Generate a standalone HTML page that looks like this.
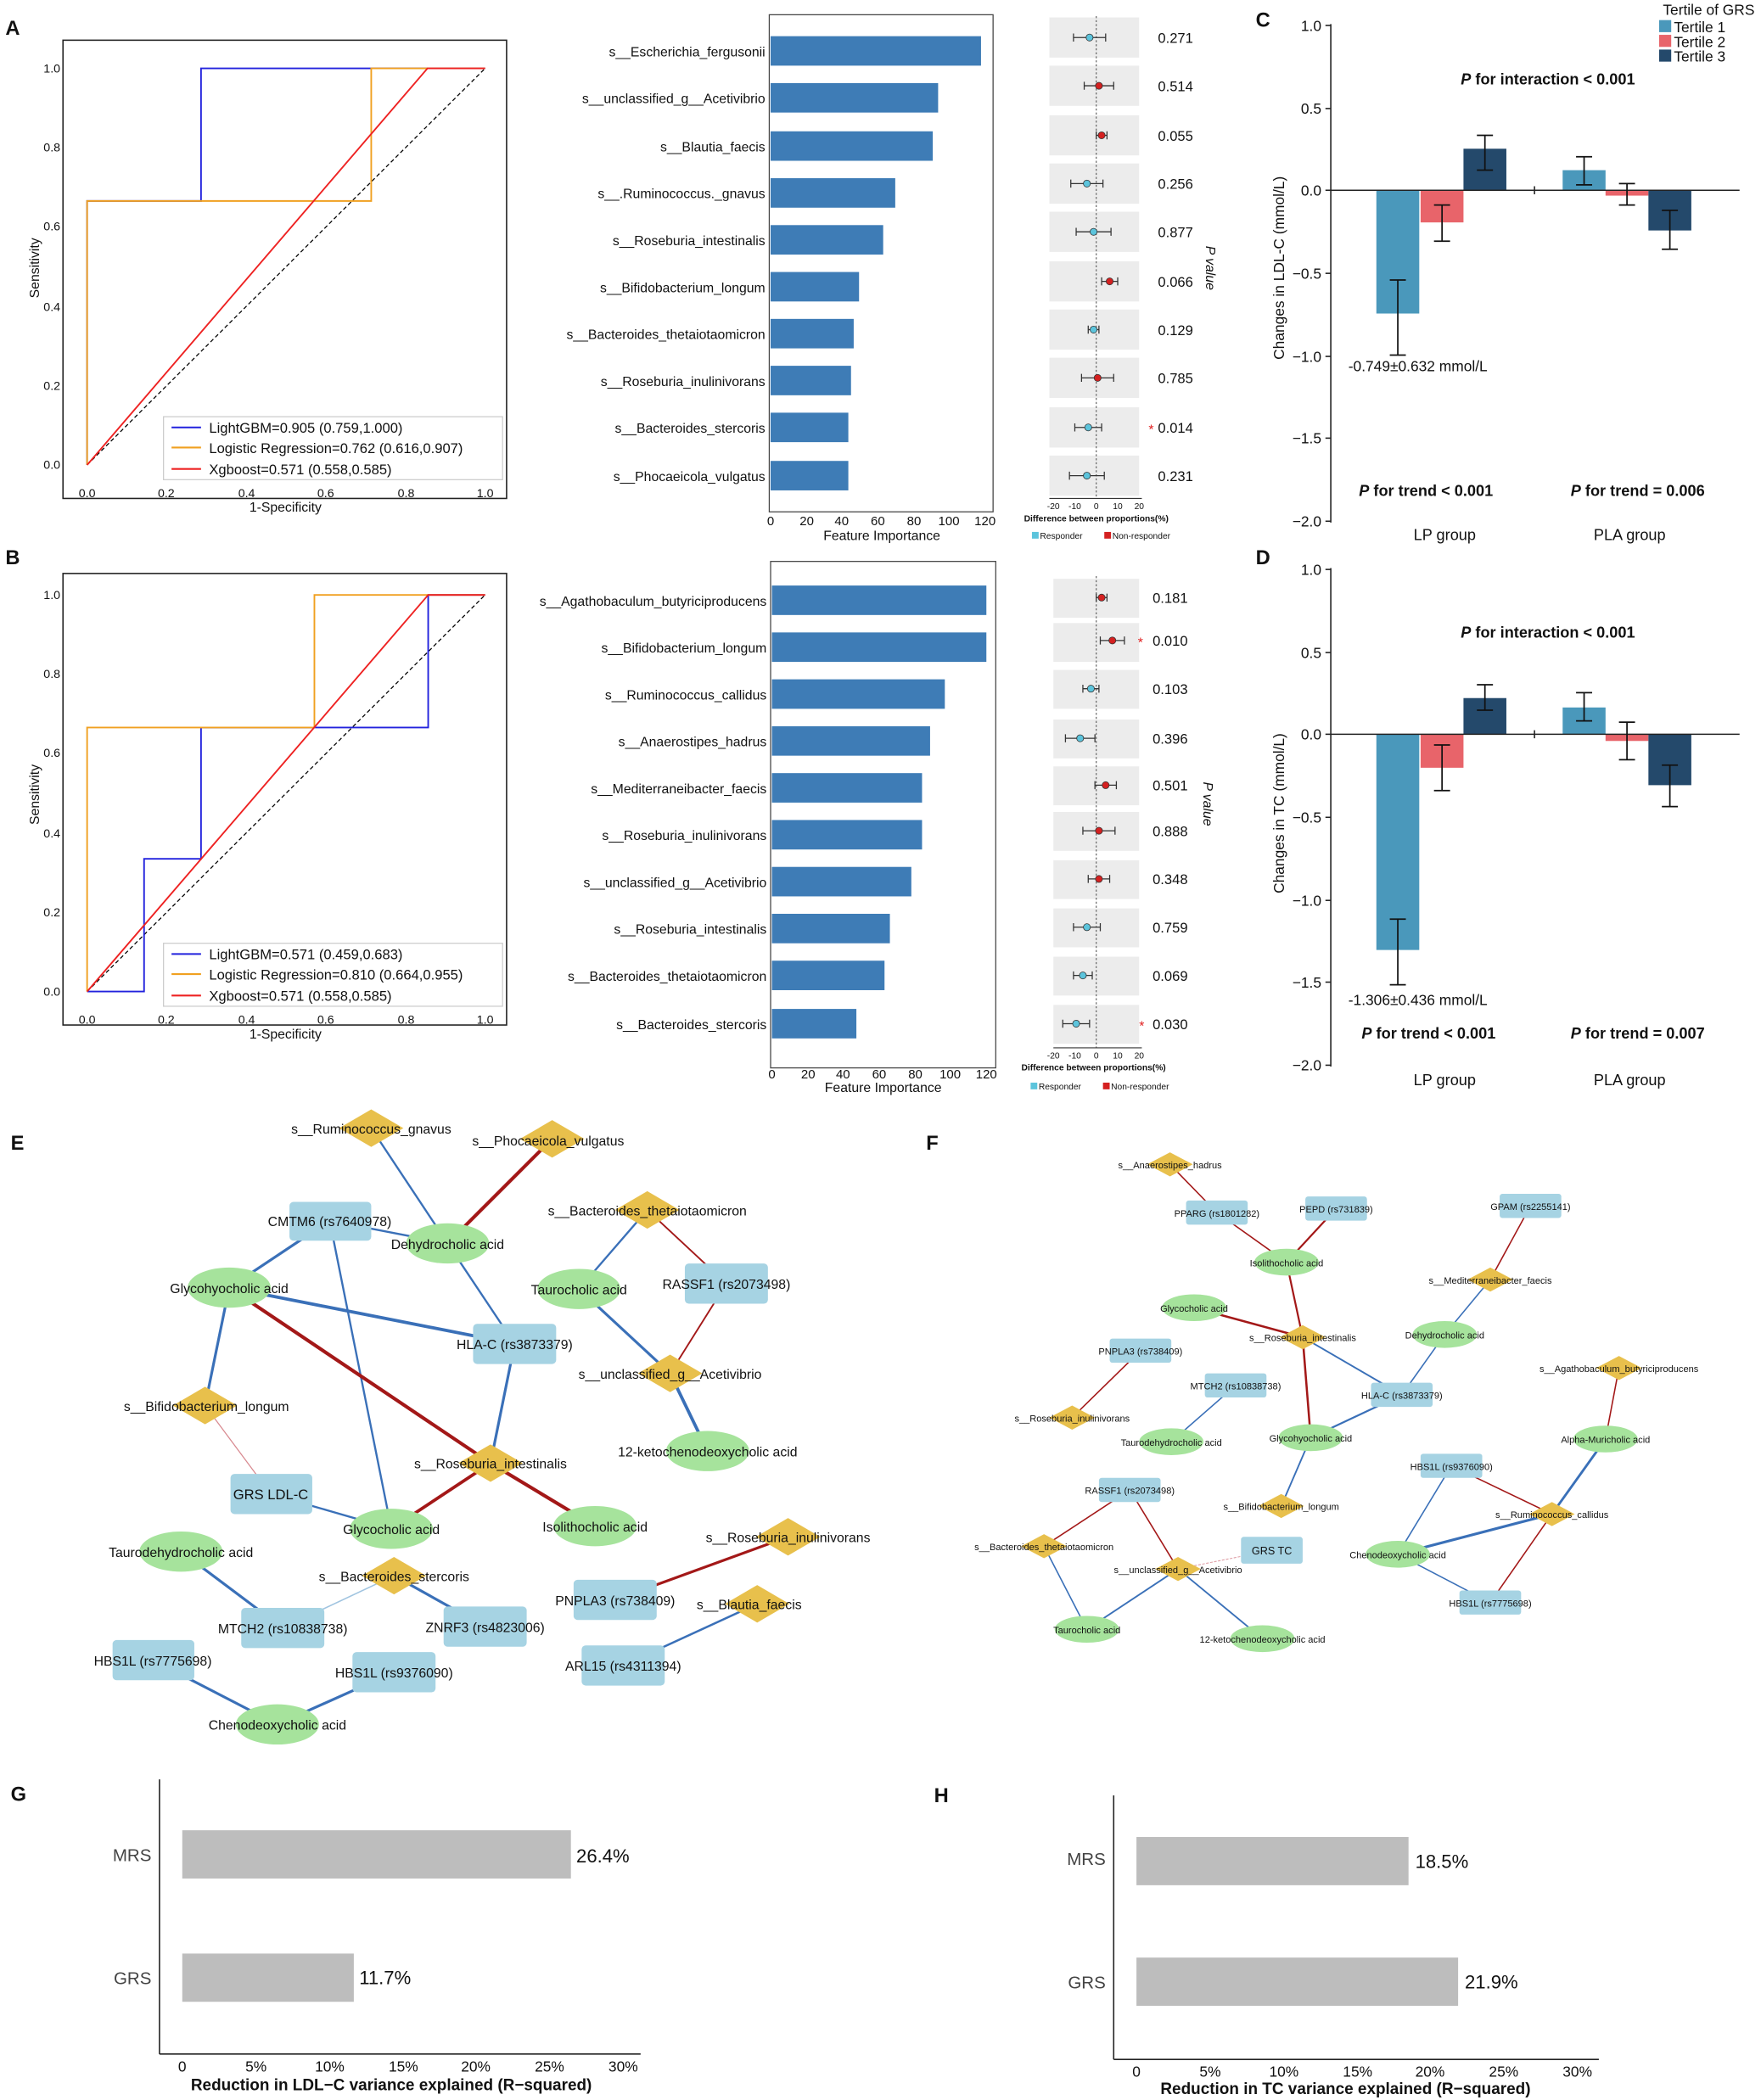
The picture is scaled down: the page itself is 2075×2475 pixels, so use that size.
<!DOCTYPE html>
<html><head><meta charset="utf-8"><style>
html,body{margin:0;padding:0;background:#fff}
svg{display:block}
text{font-family:"Liberation Sans",sans-serif;fill:#111}
</style></head><body>
<svg width="2075" height="2475" viewBox="0 0 1314 1567.3" xmlns="http://www.w3.org/2000/svg">
<rect width="1314" height="1568" fill="#fff"/>

<!-- ===== Panel A ROC ===== -->
<text x="4" y="26" font-size="15" font-weight="bold">A</text>
<rect x="47" y="30" width="331" height="342" fill="none" stroke="#222" stroke-width="1"/>
<g font-size="9" text-anchor="middle">
<text x="65" y="371">0.0</text><text x="124" y="371">0.2</text><text x="184" y="371">0.4</text><text x="243" y="371">0.6</text><text x="303" y="371">0.8</text><text x="362" y="371">1.0</text>
</g>
<g font-size="9" text-anchor="end">
<text x="45" y="350">0.0</text><text x="45" y="291">0.2</text><text x="45" y="232">0.4</text><text x="45" y="172">0.6</text><text x="45" y="113">0.8</text><text x="45" y="54">1.0</text>
</g>
<text x="213" y="382" font-size="10" text-anchor="middle">1-Specificity</text>
<text transform="translate(29,200) rotate(-90)" font-size="10" text-anchor="middle">Sensitivity</text>
<line x1="65" y1="347" x2="362" y2="51" stroke="#000" stroke-dasharray="3,2" stroke-width="0.8"/>
<polyline points="65,347 65,150 150,150 150,51 362,51" fill="none" stroke="#2222dd" stroke-width="1.2"/>
<polyline points="65,347 65,150 277,150 277,51 362,51" fill="none" stroke="#f0a020" stroke-width="1.2"/>
<polyline points="65,347 319,51 362,51" fill="none" stroke="#ee2222" stroke-width="1.2"/>
<rect x="122" y="311" width="253" height="47" fill="#fff" stroke="#ccc" stroke-width="0.8"/>
<line x1="128" y1="319" x2="150" y2="319" stroke="#2222dd" stroke-width="1.3"/>
<line x1="128" y1="334" x2="150" y2="334" stroke="#f0a020" stroke-width="1.3"/>
<line x1="128" y1="350" x2="150" y2="350" stroke="#ee2222" stroke-width="1.3"/>
<g font-size="10.5"><text x="156" y="323">LightGBM=0.905 (0.759,1.000)</text><text x="156" y="338">Logistic Regression=0.762 (0.616,0.907)</text><text x="156" y="354">Xgboost=0.571 (0.558,0.585)</text></g>

<!-- ===== Panel A bars ===== -->
<rect x="574" y="11" width="167" height="371" fill="none" stroke="#444" stroke-width="0.8"/>
<g fill="#3e7cb6">
<rect x="575" y="27" width="157" height="22"/><rect x="575" y="62" width="125" height="22"/><rect x="575" y="98" width="121" height="22"/><rect x="575" y="133" width="93" height="22"/><rect x="575" y="168" width="84" height="22"/><rect x="575" y="203" width="66" height="22"/><rect x="575" y="238" width="62" height="22"/><rect x="575" y="273" width="60" height="22"/><rect x="575" y="308" width="58" height="22"/><rect x="575" y="344" width="58" height="22"/>
</g>
<g font-size="10" text-anchor="end">
<text x="571" y="42">s__Escherichia_fergusonii</text><text x="571" y="77">s__unclassified_g__Acetivibrio</text><text x="571" y="113">s__Blautia_faecis</text><text x="571" y="148">s__.Ruminococcus._gnavus</text><text x="571" y="183">s__Roseburia_intestinalis</text><text x="571" y="218">s__Bifidobacterium_longum</text><text x="571" y="253">s__Bacteroides_thetaiotaomicron</text><text x="571" y="288">s__Roseburia_inulinivorans</text><text x="571" y="323">s__Bacteroides_stercoris</text><text x="571" y="359">s__Phocaeicola_vulgatus</text>
</g>
<g font-size="9.5" text-anchor="middle">
<text x="575" y="392">0</text><text x="602" y="392">20</text><text x="628" y="392">40</text><text x="655" y="392">60</text><text x="682" y="392">80</text><text x="708" y="392">100</text><text x="735" y="392">120</text>
</g>
<text x="658" y="403" font-size="10" text-anchor="middle">Feature Importance</text>

<!-- ===== Panel A forest ===== -->
<g fill="#ececec">
<rect x="783" y="13" width="67" height="30"/><rect x="783" y="49" width="67" height="30"/><rect x="783" y="86" width="67" height="30"/><rect x="783" y="122" width="67" height="30"/><rect x="783" y="158" width="67" height="30"/><rect x="783" y="195" width="67" height="30"/><rect x="783" y="231" width="67" height="30"/><rect x="783" y="267" width="67" height="30"/><rect x="783" y="304" width="67" height="30"/><rect x="783" y="340" width="67" height="30"/>
</g>
<line x1="818" y1="12" x2="818" y2="372" stroke="#555" stroke-dasharray="1.5,1.5" stroke-width="0.7"/>
<line x1="783" y1="372" x2="852" y2="372" stroke="#333" stroke-width="0.7"/>
<g stroke="#333" stroke-width="0.8" fill="none">
<path d="M801 28H825M801 25V31M825 25V31"/><path d="M809 64H831M809 61V67M831 61V67"/><path d="M818 101H826M818 98V104M826 98V104"/><path d="M799 137H823M799 134V140M823 134V140"/><path d="M803 173H829M803 170V176M829 170V176"/><path d="M822 210H834M822 207V213M834 207V213"/><path d="M812 246H820M812 243V249M820 243V249"/><path d="M807 282H831M807 279V285M831 279V285"/><path d="M802 319H822M802 316V322M822 316V322"/><path d="M798 355H824M798 352V358M824 352V358"/>
</g>
<g stroke="#333" stroke-width="0.5">
<circle cx="813" cy="28" r="2.6" fill="#5cc4dc"/><circle cx="820" cy="64" r="2.6" fill="#d42020"/><circle cx="822" cy="101" r="2.6" fill="#d42020"/><circle cx="811" cy="137" r="2.6" fill="#5cc4dc"/><circle cx="816" cy="173" r="2.6" fill="#5cc4dc"/><circle cx="828" cy="210" r="2.6" fill="#d42020"/><circle cx="816" cy="246" r="2.6" fill="#5cc4dc"/><circle cx="819" cy="282" r="2.6" fill="#d42020"/><circle cx="812" cy="319" r="2.6" fill="#5cc4dc"/><circle cx="811" cy="355" r="2.6" fill="#5cc4dc"/>
</g>
<g font-size="10.5">
<text x="864" y="32">0.271</text><text x="864" y="68">0.514</text><text x="864" y="105">0.055</text><text x="864" y="141">0.256</text><text x="864" y="177">0.877</text><text x="864" y="214">0.066</text><text x="864" y="250">0.129</text><text x="864" y="286">0.785</text><text x="864" y="323">0.014</text><text x="864" y="359">0.231</text>
</g>
<text x="857" y="324" font-size="10" fill="#e02020" style="fill:#e02020">*</text>
<text transform="translate(900,200) rotate(90)" font-size="10" font-style="italic" text-anchor="middle">P value</text>
<g font-size="6.5" text-anchor="middle">
<text x="786" y="380">-20</text><text x="802" y="380">-10</text><text x="818" y="380">0</text><text x="834" y="380">10</text><text x="850" y="380">20</text>
</g>
<text x="818" y="389" font-size="6.5" font-weight="bold" text-anchor="middle">Difference between proportions(%)</text>
<rect x="770" y="397" width="5" height="5" fill="#5cc4dc"/><text x="776" y="402" font-size="6.5">Responder</text>
<rect x="824" y="397" width="5" height="5" fill="#d42020"/><text x="830" y="402" font-size="6.5">Non-responder</text>

<!-- ===== Panel B ROC ===== -->
<text x="4" y="421" font-size="15" font-weight="bold">B</text>
<rect x="47" y="428" width="331" height="337" fill="none" stroke="#222" stroke-width="1"/>
<g font-size="9" text-anchor="middle">
<text x="65" y="764">0.0</text><text x="124" y="764">0.2</text><text x="184" y="764">0.4</text><text x="243" y="764">0.6</text><text x="303" y="764">0.8</text><text x="362" y="764">1.0</text>
</g>
<g font-size="9" text-anchor="end">
<text x="45" y="743">0.0</text><text x="45" y="684">0.2</text><text x="45" y="625">0.4</text><text x="45" y="565">0.6</text><text x="45" y="506">0.8</text><text x="45" y="447">1.0</text>
</g>
<text x="213" y="775" font-size="10" text-anchor="middle">1-Specificity</text>
<text transform="translate(29,593) rotate(-90)" font-size="10" text-anchor="middle">Sensitivity</text>
<line x1="65" y1="740" x2="362" y2="444" stroke="#000" stroke-dasharray="3,2" stroke-width="0.8"/>
<polyline points="65,740 107.5,740 107.5,641 150,641 150,543 319.5,543 319.5,444 362,444" fill="none" stroke="#2222dd" stroke-width="1.2"/>
<polyline points="65,740 65,543 234.6,543 234.6,444 362,444" fill="none" stroke="#f0a020" stroke-width="1.2"/>
<polyline points="65,740 319.5,444 362,444" fill="none" stroke="#ee2222" stroke-width="1.2"/>
<rect x="122" y="704" width="253" height="47" fill="#fff" stroke="#ccc" stroke-width="0.8"/>
<line x1="128" y1="712" x2="150" y2="712" stroke="#2222dd" stroke-width="1.3"/>
<line x1="128" y1="727" x2="150" y2="727" stroke="#f0a020" stroke-width="1.3"/>
<line x1="128" y1="743" x2="150" y2="743" stroke="#ee2222" stroke-width="1.3"/>
<g font-size="10.5"><text x="156" y="716">LightGBM=0.571 (0.459,0.683)</text><text x="156" y="731">Logistic Regression=0.810 (0.664,0.955)</text><text x="156" y="747">Xgboost=0.571 (0.558,0.585)</text></g>

<!-- ===== Panel B bars ===== -->
<rect x="575" y="419" width="168" height="378" fill="none" stroke="#444" stroke-width="0.8"/>
<g fill="#3e7cb6">
<rect x="576" y="437" width="160" height="22"/><rect x="576" y="472" width="160" height="22"/><rect x="576" y="507" width="129" height="22"/><rect x="576" y="542" width="118" height="22"/><rect x="576" y="577" width="112" height="22"/><rect x="576" y="612" width="112" height="22"/><rect x="576" y="647" width="104" height="22"/><rect x="576" y="682" width="88" height="22"/><rect x="576" y="717" width="84" height="22"/><rect x="576" y="753" width="63" height="22"/>
</g>
<g font-size="10" text-anchor="end">
<text x="572" y="452">s__Agathobaculum_butyriciproducens</text><text x="572" y="487">s__Bifidobacterium_longum</text><text x="572" y="522">s__Ruminococcus_callidus</text><text x="572" y="557">s__Anaerostipes_hadrus</text><text x="572" y="592">s__Mediterraneibacter_faecis</text><text x="572" y="627">s__Roseburia_inulinivorans</text><text x="572" y="662">s__unclassified_g__Acetivibrio</text><text x="572" y="697">s__Roseburia_intestinalis</text><text x="572" y="732">s__Bacteroides_thetaiotaomicron</text><text x="572" y="768">s__Bacteroides_stercoris</text>
</g>
<g font-size="9.5" text-anchor="middle">
<text x="576" y="805">0</text><text x="603" y="805">20</text><text x="629" y="805">40</text><text x="656" y="805">60</text><text x="683" y="805">80</text><text x="709" y="805">100</text><text x="736" y="805">120</text>
</g>
<text x="659" y="815" font-size="10" text-anchor="middle">Feature Importance</text>

<!-- ===== Panel B forest ===== -->
<g fill="#ececec">
<rect x="786" y="432" width="64" height="29"/><rect x="786" y="465" width="64" height="29"/><rect x="786" y="500" width="64" height="29"/><rect x="786" y="537" width="64" height="29"/><rect x="786" y="572" width="64" height="29"/><rect x="786" y="606" width="64" height="29"/><rect x="786" y="642" width="64" height="29"/><rect x="786" y="678" width="64" height="29"/><rect x="786" y="714" width="64" height="29"/><rect x="786" y="750" width="64" height="29"/>
</g>
<line x1="818" y1="430" x2="818" y2="782" stroke="#555" stroke-dasharray="1.5,1.5" stroke-width="0.7"/>
<line x1="786" y1="782" x2="852" y2="782" stroke="#333" stroke-width="0.7"/>
<g stroke="#333" stroke-width="0.8" fill="none">
<path d="M818 446H826M818 443V449M826 443V449"/><path d="M821 478H839M821 475V481M839 475V481"/><path d="M808 514H820M808 511V517M820 511V517"/><path d="M795 551H817M795 548V554M817 548V554"/><path d="M817 586H833M817 583V589M833 583V589"/><path d="M808 620H832M808 617V623M832 617V623"/><path d="M812 656H828M812 653V659M828 653V659"/><path d="M801 692H821M801 689V695M821 689V695"/><path d="M801 728H815M801 725V731M815 725V731"/><path d="M793 764H813M793 761V767M813 761V767"/>
</g>
<g stroke="#333" stroke-width="0.5">
<circle cx="822" cy="446" r="2.6" fill="#d42020"/><circle cx="830" cy="478" r="2.6" fill="#d42020"/><circle cx="814" cy="514" r="2.6" fill="#5cc4dc"/><circle cx="806" cy="551" r="2.6" fill="#5cc4dc"/><circle cx="825" cy="586" r="2.6" fill="#d42020"/><circle cx="820" cy="620" r="2.6" fill="#d42020"/><circle cx="820" cy="656" r="2.6" fill="#d42020"/><circle cx="811" cy="692" r="2.6" fill="#5cc4dc"/><circle cx="808" cy="728" r="2.6" fill="#5cc4dc"/><circle cx="803" cy="764" r="2.6" fill="#5cc4dc"/>
</g>
<g font-size="10.5">
<text x="860" y="450">0.181</text><text x="860" y="482">0.010</text><text x="860" y="518">0.103</text><text x="860" y="555">0.396</text><text x="860" y="590">0.501</text><text x="860" y="624">0.888</text><text x="860" y="660">0.348</text><text x="860" y="696">0.759</text><text x="860" y="732">0.069</text><text x="860" y="768">0.030</text>
</g>
<text x="849" y="483" font-size="10" style="fill:#e02020">*</text>
<text x="850" y="769" font-size="10" style="fill:#e02020">*</text>
<text transform="translate(898,600) rotate(90)" font-size="10" font-style="italic" text-anchor="middle">P value</text>
<g font-size="6.5" text-anchor="middle">
<text x="786" y="790">-20</text><text x="802" y="790">-10</text><text x="818" y="790">0</text><text x="834" y="790">10</text><text x="850" y="790">20</text>
</g>
<text x="816" y="799" font-size="6.5" font-weight="bold" text-anchor="middle">Difference between proportions(%)</text>
<rect x="769" y="808" width="5" height="5" fill="#5cc4dc"/><text x="775" y="813" font-size="6.5">Responder</text>
<rect x="823" y="808" width="5" height="5" fill="#d42020"/><text x="829" y="813" font-size="6.5">Non-responder</text>

<!-- ===== Panel C ===== -->
<text x="937" y="20" font-size="15" font-weight="bold">C</text>
<line x1="993" y1="18" x2="993" y2="390" stroke="#222" stroke-width="1"/>
<g stroke="#222"><line x1="989" y1="19" x2="993" y2="19"/><line x1="989" y1="81" x2="993" y2="81"/><line x1="989" y1="142" x2="993" y2="142"/><line x1="989" y1="204" x2="993" y2="204"/><line x1="989" y1="266" x2="993" y2="266"/><line x1="989" y1="327" x2="993" y2="327"/><line x1="989" y1="389" x2="993" y2="389"/></g>
<g font-size="11" text-anchor="end">
<text x="986" y="23">1.0</text><text x="986" y="85">0.5</text><text x="986" y="146">0.0</text><text x="986" y="208">−0.5</text><text x="986" y="270">−1.0</text><text x="986" y="331">−1.5</text><text x="986" y="393">−2.0</text>
</g>
<text transform="translate(958,200) rotate(-90)" font-size="11" text-anchor="middle">Changes in LDL-C (mmol/L)</text>
<rect x="1027" y="142" width="32" height="92" fill="#4a98bb"/>
<rect x="1060" y="142" width="32" height="24" fill="#e8646a"/>
<rect x="1092" y="111" width="32" height="31" fill="#24496b"/>
<rect x="1166" y="127" width="32" height="15" fill="#4a98bb"/>
<rect x="1198" y="142" width="32" height="4" fill="#e8646a"/>
<rect x="1230" y="142" width="32" height="30" fill="#24496b"/>
<line x1="993" y1="142" x2="1298" y2="142" stroke="#222" stroke-width="1"/>
<line x1="1145" y1="139" x2="1145" y2="145" stroke="#222"/>
<g stroke="#111" stroke-width="1.1" fill="none">
<path d="M1043 209V265M1037 209H1049M1037 265H1049"/><path d="M1076 153V180M1070 153H1082M1070 180H1082"/><path d="M1108 101V127M1102 101H1114M1102 127H1114"/>
<path d="M1182 117V138M1176 117H1188M1176 138H1188"/><path d="M1214 137V153M1208 137H1220M1208 153H1220"/><path d="M1246 157V186M1240 157H1252M1240 186H1252"/>
</g>
<text x="1155" y="63" font-size="11.5" font-weight="bold" text-anchor="middle"><tspan font-style="italic">P</tspan> for interaction &lt; 0.001</text>
<text x="1058" y="277" font-size="11" text-anchor="middle">-0.749±0.632 mmol/L</text>
<text x="1064" y="370" font-size="11.5" font-weight="bold" text-anchor="middle"><tspan font-style="italic">P</tspan> for trend &lt; 0.001</text>
<text x="1222" y="370" font-size="11.5" font-weight="bold" text-anchor="middle"><tspan font-style="italic">P</tspan> for trend = 0.006</text>
<text x="1078" y="403" font-size="11.5" text-anchor="middle">LP group</text>
<text x="1216" y="403" font-size="11.5" text-anchor="middle">PLA group</text>
<text x="1275" y="11" font-size="11" text-anchor="middle">Tertile of GRS</text>
<rect x="1238" y="15" width="9" height="9" fill="#4a98bb"/><text x="1249" y="24" font-size="11">Tertile 1</text>
<rect x="1238" y="26" width="9" height="9" fill="#e8646a"/><text x="1249" y="35" font-size="11">Tertile 2</text>
<rect x="1238" y="37" width="9" height="9" fill="#24496b"/><text x="1249" y="46" font-size="11">Tertile 3</text>

<!-- ===== Panel D ===== -->
<text x="937" y="421" font-size="15" font-weight="bold">D</text>
<line x1="993" y1="424" x2="993" y2="796" stroke="#222" stroke-width="1"/>
<g stroke="#222"><line x1="989" y1="425" x2="993" y2="425"/><line x1="989" y1="487" x2="993" y2="487"/><line x1="989" y1="548" x2="993" y2="548"/><line x1="989" y1="610" x2="993" y2="610"/><line x1="989" y1="672" x2="993" y2="672"/><line x1="989" y1="733" x2="993" y2="733"/><line x1="989" y1="795" x2="993" y2="795"/></g>
<g font-size="11" text-anchor="end">
<text x="986" y="429">1.0</text><text x="986" y="491">0.5</text><text x="986" y="552">0.0</text><text x="986" y="614">−0.5</text><text x="986" y="676">−1.0</text><text x="986" y="737">−1.5</text><text x="986" y="799">−2.0</text>
</g>
<text transform="translate(958,607) rotate(-90)" font-size="11" text-anchor="middle">Changes in TC (mmol/L)</text>
<rect x="1027" y="548" width="32" height="161" fill="#4a98bb"/>
<rect x="1060" y="548" width="32" height="25" fill="#e8646a"/>
<rect x="1092" y="521" width="32" height="27" fill="#24496b"/>
<rect x="1166" y="528" width="32" height="20" fill="#4a98bb"/>
<rect x="1198" y="548" width="32" height="5" fill="#e8646a"/>
<rect x="1230" y="548" width="32" height="38" fill="#24496b"/>
<line x1="993" y1="548" x2="1298" y2="548" stroke="#222" stroke-width="1"/>
<line x1="1145" y1="545" x2="1145" y2="551" stroke="#222"/>
<g stroke="#111" stroke-width="1.1" fill="none">
<path d="M1043 686V735M1037 686H1049M1037 735H1049"/><path d="M1076 556V590M1070 556H1082M1070 590H1082"/><path d="M1108 511V530M1102 511H1114M1102 530H1114"/>
<path d="M1182 517V538M1176 517H1188M1176 538H1188"/><path d="M1214 539V567M1208 539H1220M1208 567H1220"/><path d="M1246 571V602M1240 571H1252M1240 602H1252"/>
</g>
<text x="1155" y="476" font-size="11.5" font-weight="bold" text-anchor="middle"><tspan font-style="italic">P</tspan> for interaction &lt; 0.001</text>
<text x="1058" y="750" font-size="11" text-anchor="middle">-1.306±0.436 mmol/L</text>
<text x="1066" y="775" font-size="11.5" font-weight="bold" text-anchor="middle"><tspan font-style="italic">P</tspan> for trend &lt; 0.001</text>
<text x="1222" y="775" font-size="11.5" font-weight="bold" text-anchor="middle"><tspan font-style="italic">P</tspan> for trend = 0.007</text>
<text x="1078" y="810" font-size="11.5" text-anchor="middle">LP group</text>
<text x="1216" y="810" font-size="11.5" text-anchor="middle">PLA group</text>

<!-- ===== Panel E network ===== -->
<text x="8" y="858" font-size="15" font-weight="bold">E</text>
<g fill="none" stroke-width="1.5">
<line x1="277" y1="842" x2="334" y2="928" stroke="#3a70b8"/>
<line x1="412" y1="850" x2="334" y2="928" stroke="#a31818" stroke-width="2.6"/>
<line x1="246" y1="911" x2="334" y2="928" stroke="#3a70b8"/>
<line x1="246" y1="911" x2="171" y2="961" stroke="#3a70b8" stroke-width="2"/>
<line x1="246" y1="911" x2="292" y2="1141" stroke="#3a70b8"/>
<line x1="334" y1="928" x2="384" y2="1003" stroke="#3a70b8"/>
<line x1="171" y1="961" x2="384" y2="1003" stroke="#3a70b8" stroke-width="2.4"/>
<line x1="171" y1="961" x2="366" y2="1092" stroke="#a31818" stroke-width="2.6"/>
<line x1="366" y1="1092" x2="444" y2="1139" stroke="#a31818" stroke-width="2.6"/>
<line x1="171" y1="961" x2="153" y2="1049" stroke="#3a70b8" stroke-width="2"/>
<line x1="153" y1="1049" x2="202" y2="1115" stroke="#d88a90" stroke-width="0.8"/>
<line x1="202" y1="1115" x2="292" y2="1141" stroke="#3a70b8"/>
<line x1="384" y1="1003" x2="366" y2="1092" stroke="#3a70b8" stroke-width="2"/>
<line x1="366" y1="1092" x2="292" y2="1141" stroke="#a31818" stroke-width="2.4"/>
<line x1="483" y1="903" x2="432" y2="962" stroke="#3a70b8"/>
<line x1="483" y1="903" x2="542" y2="958" stroke="#a31818" stroke-width="1.2"/>
<line x1="542" y1="958" x2="500" y2="1025" stroke="#a31818" stroke-width="1.2"/>
<line x1="432" y1="962" x2="500" y2="1025" stroke="#3a70b8" stroke-width="2"/>
<line x1="500" y1="1025" x2="528" y2="1083" stroke="#3a70b8" stroke-width="2.4"/>
<line x1="294" y1="1176" x2="211" y2="1215" stroke="#a0c4e0" stroke-width="1"/>
<line x1="294" y1="1176" x2="362" y2="1214" stroke="#3a70b8" stroke-width="2"/>
<line x1="135" y1="1158" x2="211" y2="1215" stroke="#3a70b8" stroke-width="2"/>
<line x1="114" y1="1239" x2="207" y2="1287" stroke="#3a70b8" stroke-width="2"/>
<line x1="294" y1="1248" x2="207" y2="1287" stroke="#3a70b8" stroke-width="2"/>
<line x1="588" y1="1147" x2="459" y2="1194" stroke="#a31818" stroke-width="2"/>
<line x1="565" y1="1197" x2="465" y2="1243" stroke="#3a70b8" stroke-width="1.6"/>
</g>
<g fill="#a6d3e3">
<rect x="216" y="897" width="61" height="29" rx="3"/><rect x="353" y="988" width="62" height="30" rx="3"/><rect x="511" y="943" width="62" height="30" rx="3"/><rect x="172" y="1100" width="61" height="30" rx="3"/><rect x="180" y="1200" width="62" height="30" rx="3"/><rect x="331" y="1199" width="62" height="30" rx="3"/><rect x="84" y="1224" width="61" height="30" rx="3"/><rect x="263" y="1233" width="62" height="30" rx="3"/><rect x="428" y="1179" width="62" height="30" rx="3"/><rect x="434" y="1228" width="62" height="30" rx="3"/>
</g>
<g fill="#a6e39c">
<ellipse cx="334" cy="928" rx="31" ry="15"/><ellipse cx="171" cy="961" rx="31" ry="15"/><ellipse cx="432" cy="962" rx="31" ry="15"/><ellipse cx="528" cy="1083" rx="31" ry="15"/><ellipse cx="292" cy="1141" rx="31" ry="15"/><ellipse cx="444" cy="1139" rx="31" ry="15"/><ellipse cx="135" cy="1158" rx="31" ry="15"/><ellipse cx="207" cy="1287" rx="31" ry="15"/>
</g>
<g fill="#e8c04c">
<path d="M277 828L301 842L277 856L253 842Z"/><path d="M412 836L436 850L412 864L388 850Z"/><path d="M483 889L507 903L483 917L459 903Z"/><path d="M500 1011L524 1025L500 1039L476 1025Z"/><path d="M153 1035L177 1049L153 1063L129 1049Z"/><path d="M366 1078L390 1092L366 1106L342 1092Z"/><path d="M294 1162L318 1176L294 1190L270 1176Z"/><path d="M588 1133L612 1147L588 1161L564 1147Z"/><path d="M565 1183L589 1197L565 1211L541 1197Z"/>
</g>
<g font-size="10" text-anchor="middle">
<text x="277" y="846">s__Ruminococcus_gnavus</text><text x="409" y="855">s__Phocaeicola_vulgatus</text><text x="483" y="907">s__Bacteroides_thetaiotaomicron</text><text x="500" y="1029">s__unclassified_g__Acetivibrio</text><text x="154" y="1053">s__Bifidobacterium_longum</text><text x="366" y="1096">s__Roseburia_intestinalis</text><text x="294" y="1180">s__Bacteroides_stercoris</text><text x="588" y="1151">s__Roseburia_inulinivorans</text><text x="559" y="1201">s__Blautia_faecis</text>
<text x="246" y="915">CMTM6 (rs7640978)</text><text x="384" y="1007">HLA-C (rs3873379)</text><text x="542" y="962">RASSF1 (rs2073498)</text><text x="202" y="1119" font-size="10.5">GRS LDL-C</text><text x="211" y="1219">MTCH2 (rs10838738)</text><text x="362" y="1218">ZNRF3 (rs4823006)</text><text x="114" y="1243">HBS1L (rs7775698)</text><text x="294" y="1252">HBS1L (rs9376090)</text><text x="459" y="1198">PNPLA3 (rs738409)</text><text x="465" y="1247">ARL15 (rs4311394)</text>
<text x="334" y="932">Dehydrocholic acid</text><text x="171" y="965">Glycohyocholic acid</text><text x="432" y="966">Taurocholic acid</text><text x="528" y="1087">12-ketochenodeoxycholic acid</text><text x="292" y="1145">Glycocholic acid</text><text x="444" y="1143">Isolithocholic acid</text><text x="135" y="1162">Taurodehydrocholic acid</text><text x="207" y="1291">Chenodeoxycholic acid</text>
</g>

<!-- ===== Panel F network ===== -->
<text x="691" y="858" font-size="15" font-weight="bold">F</text>
<g fill="none" stroke-width="1">
<line x1="873" y1="869" x2="908" y2="905" stroke="#a31818"/>
<line x1="908" y1="905" x2="960" y2="942" stroke="#a31818"/>
<line x1="997" y1="902" x2="960" y2="942" stroke="#a31818" stroke-width="1.4"/>
<line x1="960" y1="942" x2="972" y2="998" stroke="#a31818" stroke-width="1.4"/>
<line x1="891" y1="976" x2="972" y2="998" stroke="#a31818" stroke-width="1.6"/>
<line x1="972" y1="998" x2="1046" y2="1041" stroke="#3a70b8" stroke-width="1.2"/>
<line x1="972" y1="998" x2="978" y2="1073" stroke="#a31818" stroke-width="1.6"/>
<line x1="1142" y1="900" x2="1112" y2="955" stroke="#a31818"/>
<line x1="1112" y1="955" x2="1078" y2="996" stroke="#3a70b8"/>
<line x1="1078" y1="996" x2="1046" y2="1041" stroke="#3a70b8"/>
<line x1="1046" y1="1041" x2="978" y2="1073" stroke="#3a70b8" stroke-width="1.4"/>
<line x1="851" y1="1008" x2="800" y2="1058" stroke="#a31818"/>
<line x1="922" y1="1034" x2="874" y2="1076" stroke="#3a70b8"/>
<line x1="978" y1="1073" x2="956" y2="1124" stroke="#3a70b8" stroke-width="1.2"/>
<line x1="1208" y1="1021" x2="1198" y2="1074" stroke="#a31818"/>
<line x1="1198" y1="1074" x2="1158" y2="1130" stroke="#3a70b8" stroke-width="1.8"/>
<line x1="1083" y1="1094" x2="1158" y2="1130" stroke="#a31818"/>
<line x1="1083" y1="1094" x2="1043" y2="1160" stroke="#3a70b8"/>
<line x1="1043" y1="1160" x2="1158" y2="1130" stroke="#3a70b8" stroke-width="2"/>
<line x1="1043" y1="1160" x2="1112" y2="1196" stroke="#3a70b8"/>
<line x1="1158" y1="1130" x2="1112" y2="1196" stroke="#a31818"/>
<line x1="843" y1="1112" x2="779" y2="1154" stroke="#a31818"/>
<line x1="843" y1="1112" x2="879" y2="1171" stroke="#a31818"/>
<line x1="779" y1="1154" x2="811" y2="1216" stroke="#3a70b8"/>
<line x1="879" y1="1171" x2="811" y2="1216" stroke="#3a70b8" stroke-width="1.2"/>
<line x1="879" y1="1171" x2="942" y2="1223" stroke="#3a70b8" stroke-width="1.2"/>
<line x1="949" y1="1157" x2="879" y2="1171" stroke="#e0a0a8" stroke-width="0.7" stroke-dasharray="2,1"/>
</g>
<g fill="#a6d3e3">
<rect x="885" y="896" width="46" height="18" rx="2"/><rect x="974" y="893" width="46" height="18" rx="2"/><rect x="1119" y="891" width="46" height="18" rx="2"/><rect x="828" y="999" width="46" height="18" rx="2"/><rect x="899" y="1025" width="46" height="18" rx="2"/><rect x="1023" y="1032" width="46" height="18" rx="2"/><rect x="1060" y="1085" width="46" height="18" rx="2"/><rect x="820" y="1103" width="46" height="18" rx="2"/><rect x="1089" y="1187" width="46" height="18" rx="2"/><rect x="926" y="1147" width="46" height="20" rx="2"/>
</g>
<g fill="#a6e39c">
<ellipse cx="960" cy="942" rx="24" ry="10"/><ellipse cx="891" cy="976" rx="24" ry="10"/><ellipse cx="1078" cy="996" rx="24" ry="10"/><ellipse cx="874" cy="1076" rx="24" ry="10"/><ellipse cx="978" cy="1073" rx="24" ry="10"/><ellipse cx="1198" cy="1074" rx="24" ry="10"/><ellipse cx="1043" cy="1160" rx="24" ry="10"/><ellipse cx="811" cy="1216" rx="24" ry="10"/><ellipse cx="942" cy="1223" rx="24" ry="10"/>
</g>
<g fill="#e8c04c">
<path d="M873 860L890 869L873 878L856 869Z"/><path d="M1112 946L1129 955L1112 964L1095 955Z"/><path d="M972 989L989 998L972 1007L955 998Z"/><path d="M1208 1012L1225 1021L1208 1030L1191 1021Z"/><path d="M800 1049L817 1058L800 1067L783 1058Z"/><path d="M956 1115L973 1124L956 1133L939 1124Z"/><path d="M1158 1121L1175 1130L1158 1139L1141 1130Z"/><path d="M779 1145L796 1154L779 1163L762 1154Z"/><path d="M879 1162L896 1171L879 1180L862 1171Z"/>
</g>
<g font-size="7" text-anchor="middle">
<text x="873" y="872">s__Anaerostipes_hadrus</text><text x="1112" y="958">s__Mediterraneibacter_faecis</text><text x="972" y="1001">s__Roseburia_intestinalis</text><text x="1208" y="1024">s__Agathobaculum_butyriciproducens</text><text x="800" y="1061">s__Roseburia_inulinivorans</text><text x="956" y="1127">s__Bifidobacterium_longum</text><text x="1158" y="1133">s__Ruminococcus_callidus</text><text x="779" y="1157">s__Bacteroides_thetaiotaomicron</text><text x="879" y="1174">s__unclassified_g__Acetivibrio</text>
<text x="908" y="908">PPARG (rs1801282)</text><text x="997" y="905">PEPD (rs731839)</text><text x="1142" y="903">GPAM (rs2255141)</text><text x="851" y="1011">PNPLA3 (rs738409)</text><text x="922" y="1037">MTCH2 (rs10838738)</text><text x="1046" y="1044">HLA-C (rs3873379)</text><text x="1083" y="1097">HBS1L (rs9376090)</text><text x="843" y="1115">RASSF1 (rs2073498)</text><text x="1112" y="1199">HBS1L (rs7775698)</text><text x="949" y="1160" font-size="8">GRS TC</text>
<text x="960" y="945">Isolithocholic acid</text><text x="891" y="979">Glycocholic acid</text><text x="1078" y="999">Dehydrocholic acid</text><text x="874" y="1079">Taurodehydrocholic acid</text><text x="978" y="1076">Glycohyocholic acid</text><text x="1198" y="1077">Alpha-Muricholic acid</text><text x="1043" y="1163">Chenodeoxycholic acid</text><text x="811" y="1219">Taurocholic acid</text><text x="942" y="1226">12-ketochenodeoxycholic acid</text>
</g>

<!-- ===== Panel G ===== -->
<text x="8" y="1344" font-size="15" font-weight="bold">G</text>
<line x1="119" y1="1328" x2="119" y2="1533" stroke="#222" stroke-width="1"/>
<line x1="119" y1="1533" x2="478" y2="1533" stroke="#222" stroke-width="1"/>
<rect x="136" y="1366" width="290" height="36" fill="#bdbdbd"/>
<rect x="136" y="1458" width="128" height="36" fill="#bdbdbd"/>
<text x="113" y="1389" font-size="13" text-anchor="end" style="fill:#444">MRS</text>
<text x="113" y="1481" font-size="13" text-anchor="end" style="fill:#444">GRS</text>
<text x="430" y="1390" font-size="14">26.4%</text>
<text x="268" y="1481" font-size="14">11.7%</text>
<g font-size="11" text-anchor="middle" style="fill:#444">
<text x="136" y="1546">0</text><text x="191" y="1546">5%</text><text x="246" y="1546">10%</text><text x="301" y="1546">15%</text><text x="355" y="1546">20%</text><text x="410" y="1546">25%</text><text x="465" y="1546">30%</text>
</g>
<text x="292" y="1560" font-size="12" font-weight="bold" text-anchor="middle">Reduction in LDL−C variance explained (R−squared)</text>

<!-- ===== Panel H ===== -->
<text x="697" y="1345" font-size="15" font-weight="bold">H</text>
<line x1="831" y1="1340" x2="831" y2="1537" stroke="#222" stroke-width="1"/>
<line x1="831" y1="1537" x2="1193" y2="1537" stroke="#222" stroke-width="1"/>
<rect x="848" y="1371" width="203" height="36" fill="#bdbdbd"/>
<rect x="848" y="1461" width="240" height="36" fill="#bdbdbd"/>
<text x="825" y="1392" font-size="13" text-anchor="end" style="fill:#444">MRS</text>
<text x="825" y="1484" font-size="13" text-anchor="end" style="fill:#444">GRS</text>
<text x="1056" y="1394" font-size="14">18.5%</text>
<text x="1093" y="1484" font-size="14">21.9%</text>
<g font-size="11" text-anchor="middle" style="fill:#444">
<text x="848" y="1550">0</text><text x="903" y="1550">5%</text><text x="958" y="1550">10%</text><text x="1013" y="1550">15%</text><text x="1067" y="1550">20%</text><text x="1122" y="1550">25%</text><text x="1177" y="1550">30%</text>
</g>
<text x="1004" y="1563" font-size="12" font-weight="bold" text-anchor="middle">Reduction in TC variance explained (R−squared)</text>
</svg>
</body></html>
